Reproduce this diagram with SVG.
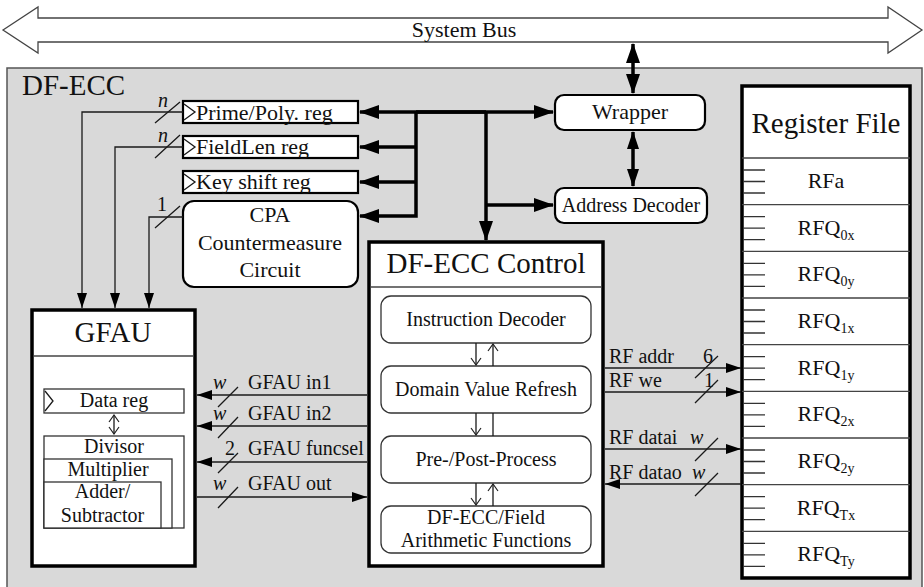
<svg xmlns="http://www.w3.org/2000/svg" width="924" height="587" viewBox="0 0 924 587">
  <style>
    text { font-family: "Liberation Serif", "Times New Roman", serif; fill: #111; }
    .f29 { font-size: 29px; }
    .f22 { font-size: 22px; }
    .f20 { font-size: 20px; }
    .it { font-style: italic; }
    .mid { text-anchor: middle; }
    .thick { fill: none; stroke: #000; stroke-width: 3.5; }
    .thin { fill: none; stroke: #1a1a1a; stroke-width: 1.3; }
    .slash { fill: none; stroke: #1a1a1a; stroke-width: 1.3; }
    .box { fill: #fff; stroke: #000; stroke-width: 2.2; }
    .bigbox { fill: #fff; stroke: #000; stroke-width: 3.5; }
    .inner { fill: #fff; stroke: #333; stroke-width: 1.3; }
    .sep { fill: none; stroke: #444; stroke-width: 1.3; }
    .tick { fill: none; stroke: #333; stroke-width: 1.3; }
  </style>
  <defs>
    <marker id="big" viewBox="0 0 20 14" markerWidth="20" markerHeight="14" refX="19" refY="7" orient="auto-start-reverse" markerUnits="userSpaceOnUse">
      <path d="M0,0 L20,7 L0,14 Z" fill="#000"/>
    </marker>
    <marker id="mid" viewBox="0 0 18 12" markerWidth="18" markerHeight="12" refX="17" refY="6" orient="auto-start-reverse" markerUnits="userSpaceOnUse">
      <path d="M0,0 L18,6 L0,12 Z" fill="#000"/>
    </marker>
    <marker id="sm" viewBox="0 0 15 10" markerWidth="15" markerHeight="10" refX="15" refY="5" orient="auto-start-reverse" markerUnits="userSpaceOnUse">
      <path d="M0,0 L15,5 L0,10 Z" fill="#000"/>
    </marker>
    <marker id="vee" viewBox="-1 -1 9 12" markerWidth="9" markerHeight="12" refX="7" refY="5" orient="auto-start-reverse" markerUnits="userSpaceOnUse">
      <path d="M0,0 L7,5 L0,10" fill="none" stroke="#222" stroke-width="1.2"/>
    </marker>
  </defs>

  <!-- system bus -->
  <g id="system-bus">
    <polygon points="3,30 38,7 38,18 888,18 888,7 922,30 888,53 888,42 38,42 38,53" fill="#fff" stroke="#444" stroke-width="1.3"/>
    <text class="f22 mid" x="464" y="37">System Bus</text>
  </g>

  <!-- DF-ECC enclosure -->
  <g id="df-ecc">
    <rect x="7" y="68" width="915" height="530" fill="#d9d9d9" stroke="#555" stroke-width="1.5"/>
    <text class="f29" x="22" y="95">DF-ECC</text>
  </g>

  <g id="prime-reg">
    <rect class="box" x="183" y="101" width="175" height="22"/>
    <polyline class="thin" points="184,104 195,112 184,120"/>
    <text class="f22" x="196" y="120">Prime/Poly. reg</text>
  </g>
  <g id="fieldlen-reg">
    <rect class="box" x="183" y="136" width="175" height="22"/>
    <polyline class="thin" points="184,139 195,147 184,155"/>
    <text class="f22" x="196" y="154">FieldLen reg</text>
  </g>
  <g id="keyshift-reg">
    <rect class="box" x="183" y="171" width="175" height="22"/>
    <polyline class="thin" points="184,174 195,182 184,190"/>
    <text class="f22" x="196" y="189">Key shift reg</text>
  </g>
  <g id="cpa">
    <rect class="box" x="183" y="201" width="175" height="86" rx="11"/>
    <text class="f22 mid" x="270" y="222">CPA</text>
    <text class="f22 mid" x="270" y="250">Countermeasure</text>
    <text class="f22 mid" x="270" y="277">Circuit</text>
  </g>

  <g id="wrapper">
    <rect class="box" x="555" y="95" width="150" height="35" rx="9"/>
    <text class="f22 mid" x="630" y="119">Wrapper</text>
  </g>
  <g id="address-decoder">
    <rect class="box" x="555" y="188" width="152" height="35" rx="9"/>
    <text class="f20 mid" x="631" y="212">Address Decoder</text>
  </g>

  <!-- register file -->
  <g id="register-file">
    <rect class="bigbox" x="742" y="86" width="168" height="492"/>
    <text class="f29 mid" x="826" y="133">Register File</text>
    <path class="sep" d="M742,158 H910 M742,204.7 H910 M742,251.3 H910 M742,298 H910 M742,344.7 H910 M742,391.3 H910 M742,438 H910 M742,484.7 H910 M742,531.3 H910"/>
    <path class="tick" d="M743,170 H765 M743,181.5 H765 M743,193 H765
      M743,216.7 H765 M743,228.2 H765 M743,239.7 H765
      M743,263.3 H765 M743,274.8 H765 M743,286.3 H765
      M743,310 H765 M743,321.5 H765 M743,333 H765
      M743,356.7 H765 M743,368.2 H765 M743,379.7 H765
      M743,403.3 H765 M743,414.8 H765 M743,426.3 H765
      M743,450 H765 M743,461.5 H765 M743,473 H765
      M743,496.7 H765 M743,508.2 H765 M743,519.7 H765
      M743,543.3 H765 M743,554.8 H765 M743,566.3 H765"/>
    <text class="f22 mid" x="826" y="188">RFa</text>
    <text class="f22 mid" x="826" y="235">RFQ<tspan font-size="14" dy="5">0x</tspan></text>
    <text class="f22 mid" x="826" y="281">RFQ<tspan font-size="14" dy="5">0y</tspan></text>
    <text class="f22 mid" x="826" y="328">RFQ<tspan font-size="14" dy="5">1x</tspan></text>
    <text class="f22 mid" x="826" y="375">RFQ<tspan font-size="14" dy="5">1y</tspan></text>
    <text class="f22 mid" x="826" y="421">RFQ<tspan font-size="14" dy="5">2x</tspan></text>
    <text class="f22 mid" x="826" y="468">RFQ<tspan font-size="14" dy="5">2y</tspan></text>
    <text class="f22 mid" x="826" y="515">RFQ<tspan font-size="14" dy="5">Tx</tspan></text>
    <text class="f22 mid" x="826" y="561">RFQ<tspan font-size="14" dy="5">Ty</tspan></text>
  </g>

  <!-- control unit -->
  <g id="control">
    <rect class="bigbox" x="369" y="242" width="234" height="324"/>
    <path class="sep" d="M371,287 H601"/>
    <text class="f29 mid" x="486" y="273">DF-ECC Control</text>
    <g id="instruction-decoder">
      <rect class="inner" x="381" y="296" width="210" height="47" rx="10"/>
      <text class="f20 mid" x="486" y="326">Instruction Decoder</text>
    </g>
    <g id="domain-value-refresh">
      <rect class="inner" x="381" y="366" width="210" height="47" rx="10"/>
      <text class="f20 mid" x="486" y="396">Domain Value Refresh</text>
    </g>
    <g id="pre-post-process">
      <rect class="inner" x="381" y="436" width="210" height="47" rx="10"/>
      <text class="f20 mid" x="486" y="466">Pre-/Post-Process</text>
    </g>
    <g id="arith-functions">
      <rect class="inner" x="381" y="506" width="210" height="47" rx="10"/>
      <text class="f20 mid" x="486" y="524">DF-ECC/Field</text>
      <text class="f20 mid" x="486" y="547">Arithmetic Functions</text>
    </g>
  </g>

  <!-- GFAU -->
  <g id="gfau">
    <rect class="bigbox" x="32" y="310" width="163" height="256"/>
    <path class="sep" d="M34,356 H193"/>
    <text class="f29 mid" x="113" y="342">GFAU</text>
    <g id="data-reg">
      <rect class="inner" x="44" y="389" width="140" height="24"/>
      <polyline class="thin" points="45,391 53,401 45,411"/>
      <text class="f20 mid" x="114" y="407">Data reg</text>
    </g>
    <g id="divisor">
      <rect class="inner" x="44" y="436" width="140" height="92"/>
      <text class="f20 mid" x="114" y="453">Divisor</text>
    </g>
    <g id="multiplier">
      <rect class="inner" x="44" y="459" width="128" height="69"/>
      <text class="f20 mid" x="108" y="476">Multiplier</text>
    </g>
    <g id="adder-subtractor">
      <rect class="inner" x="44" y="482" width="117" height="46"/>
      <text class="f20 mid" x="102.5" y="498">Adder/</text>
      <text class="f20 mid" x="102.5" y="522">Subtractor</text>
    </g>
  </g>

  <!-- connectors -->
  <g id="connectors">
    <!-- bus side, thick -->
    <path class="thick" d="M633,44 V93" marker-start="url(#big)" marker-end="url(#big)"/>
    <path class="thick" d="M633,132 V186" marker-start="url(#mid)" marker-end="url(#mid)"/>
    <path class="thick" d="M416,112 H553" marker-end="url(#big)"/>
    <path class="thick" d="M486,112 H360" marker-end="url(#big)"/>
    <path class="thick" d="M416,112 V216 H360" marker-end="url(#big)"/>
    <path class="thick" d="M416,147 H360" marker-end="url(#big)"/>
    <path class="thick" d="M416,182 H360" marker-end="url(#big)"/>
    <path class="thick" d="M486,112 V240" marker-end="url(#big)"/>
    <path class="thick" d="M486,205 H553" marker-end="url(#big)"/>

    <!-- register/CPA to GFAU -->
    <path class="thin" d="M183,112 H82 V308" marker-end="url(#sm)"/>
    <path class="thin" d="M183,147 H115 V308" marker-end="url(#sm)"/>
    <path class="thin" d="M183,217 H149 V308" marker-end="url(#sm)"/>
    <path class="slash" d="M155,123 L180,102 M155,158 L180,135 M155,228 L180,206"/>
    <text class="f20 it" x="158" y="107">n</text>
    <text class="f20 it" x="158" y="142">n</text>
    <text class="f20" x="157" y="211">1</text>

    <!-- control to GFAU -->
    <path class="thin" d="M367,395 H197" marker-end="url(#sm)"/>
    <path class="thin" d="M367,426 H197" marker-end="url(#sm)"/>
    <path class="thin" d="M367,462 H197" marker-end="url(#sm)"/>
    <path class="thin" d="M197,497 H367" marker-end="url(#sm)"/>
    <path class="slash" d="M218,407 L238,387 M218,438 L238,417 M218,473 L238,453 M218,508 L238,487"/>
    <text class="f20 it" x="213" y="389">w</text>
    <text class="f20" x="248" y="389">GFAU in1</text>
    <text class="f20 it" x="213" y="420">w</text>
    <text class="f20" x="248" y="420">GFAU in2</text>
    <text class="f20" x="225" y="455">2</text>
    <text class="f20" x="248" y="455">GFAU funcsel</text>
    <text class="f20 it" x="213" y="490">w</text>
    <text class="f20" x="248" y="490">GFAU out</text>

    <!-- control to register file -->
    <path class="thin" d="M605,368 H741" marker-end="url(#sm)"/>
    <path class="thin" d="M605,392 H741" marker-end="url(#sm)"/>
    <path class="thin" d="M605,449 H741" marker-end="url(#sm)"/>
    <path class="thin" d="M741,484 H605" marker-end="url(#sm)"/>
    <path class="slash" d="M695,378 L718,356 M695,403 L718,380 M695,461 L718,438 M695,496 L718,473"/>
    <text class="f20" x="609" y="363">RF addr</text>
    <text class="f20" x="703" y="363">6</text>
    <text class="f20" x="609" y="387">RF we</text>
    <text class="f20" x="704" y="387">1</text>
    <text class="f20" x="609" y="444">RF datai</text>
    <text class="f20 it" x="690" y="444">w</text>
    <text class="f20" x="609" y="479">RF datao</text>
    <text class="f20 it" x="692" y="479">w</text>

    <!-- inside control -->
    <path class="thin" d="M476,343 V365" marker-end="url(#vee)"/>
    <path class="thin" d="M493,366 V344" marker-end="url(#vee)"/>
    <path class="thin" d="M476,413 V435" marker-end="url(#vee)"/>
    <path class="thin" d="M493,413 V436"/>
    <path class="thin" d="M476,483 V505" marker-end="url(#vee)"/>
    <path class="thin" d="M493,506 V484" marker-end="url(#vee)"/>

    <!-- inside GFAU -->
    <path class="thin" d="M114,415 V434" marker-start="url(#vee)" marker-end="url(#vee)"/>
  </g>
</svg>
